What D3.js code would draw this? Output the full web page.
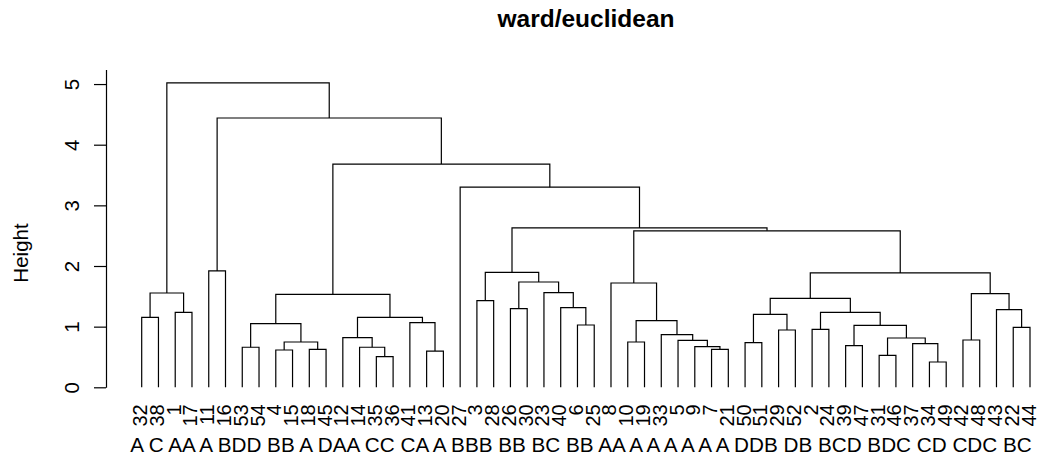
<!DOCTYPE html>
<html>
<head>
<meta charset="utf-8">
<script src="https://cdn.jsdelivr.net/npm/d3@7"></script>
<style>
  html, body { margin: 0; padding: 0; background: #fff; }
  svg { display: block; font-family: "Liberation Sans", Arial, Helvetica, sans-serif; }
</style>
</head>
<body>
<svg id="chart" width="1037" height="457"></svg>
<script>
// ---- data -------------------------------------------------------------
const title = "ward/euclidean";
const yLabel = "Height";
const yTicks = [0, 1, 2, 3, 4, 5];

// hclust-style merge table: a negative entry is an observation number,
// a positive entry refers to an earlier merge step (1-based).
const mergeLeft = [-34, -35, -31, -13, -4, -18, -7, -53, -14, -9,
                   -39, -37, -50, 5, -10, -5, -42, 3, -12, -33,
                   -29, -2, -22, 11, -6, 8, -41, 15, -32, 19,
                   13, -1, 22, -43, -26, -40, -3, 31, 26, 17,
                   29, -23, -8, 35, 38, 37, -11, 43, 46, -27,
                   39, 47, 41];
const mergeRight = [-49, -36, -46, -20, -15, -45, -21, -54, 2, 7,
                    -47, 1, -51, 6, -19, 10, -48, 12, 9, 16,
                    -52, -24, -44, 18, -25, 14, 4, 20, -38, 27,
                    21, -17, 24, 23, -30, 25, -28, 33, 30, 34,
                    32, 36, 28, 42, 40, 44, -16, 45, 48, 49,
                    50, 51, 52];
const mergeHeight = [0.417, 0.505, 0.527, 0.598, 0.615, 0.626, 0.626, 0.66, 0.66, 0.67,
                     0.686, 0.719, 0.736, 0.747, 0.747, 0.775, 0.78, 0.813, 0.818, 0.868,
                     0.945, 0.956, 0.989, 1.022, 1.027, 1.049, 1.066, 1.098, 1.154, 1.154,
                     1.203, 1.236, 1.236, 1.28, 1.297, 1.313, 1.428, 1.467, 1.533, 1.544,
                     1.555, 1.56, 1.72, 1.736, 1.885, 1.896, 1.918, 2.58, 2.627, 3.30,
                     3.68, 4.44, 5.02];

// group letters of the observations, in leaf order
const groupLine = "A C AA A BDD BB A DAA CC CA A BBB BB BC BB AA A A A A A A DDB DB BCD BDC CD CDC BC";

// ---- tree -------------------------------------------------------------
const steps = [];
const ref = v => v < 0 ? { name: String(-v), h: 0 } : steps[v - 1];
mergeLeft.forEach((l, i) => {
  steps.push({ h: mergeHeight[i], children: [ref(l), ref(mergeRight[i])] });
});
const root = d3.hierarchy(steps[steps.length - 1]);
const leaves = root.leaves();

// ---- scales -----------------------------------------------------------
const x = d3.scaleLinear().domain([1, leaves.length]).range([141.7, 1030]);
const y = d3.scaleLinear().domain([0, 5]).range([387.3, 84.05]);

leaves.forEach((d, i) => { d.x = x(i + 1); });
root.eachAfter(d => {
  if (d.children) d.x = (d.children[0].x + d.children[1].x) / 2;
});

const svg = d3.select("#chart");

// ---- dendrogram segments ---------------------------------------------
const links = svg.append("g")
  .attr("fill", "none")
  .attr("stroke", "#000")
  .attr("stroke-width", 1.2);

links.selectAll("path")
  .data(root.descendants().filter(d => d.children))
  .join("path")
  .attr("d", d => {
    const [a, b] = d.children;
    return `M${a.x},${y(a.data.h)}V${y(d.data.h)}H${b.x}V${y(b.data.h)}`;
  });

// ---- leaf labels (vertical) ------------------------------------------
svg.append("g")
  .attr("font-size", 20)
  .attr("fill", "#000")
  .selectAll("text")
  .data(leaves)
  .join("text")
  .attr("text-anchor", "end")
  .attr("transform", d => `translate(${d.x + 5.5},${y(0) + 17}) rotate(-90)`)
  .text(d => d.data.name);

// ---- y axis -----------------------------------------------------------
const yAxisScale = y.copy().domain([0, 5.24]).range([y(0), y(5.24)]);
const axis = svg.append("g")
  .attr("transform", "translate(106,0)")
  .call(d3.axisLeft(yAxisScale).tickValues(yTicks).tickSize(12).tickSizeOuter(0)
        .tickFormat(d3.format("d")));
axis.attr("font-family", null).attr("font-size", 20.5);
axis.selectAll("path, line").attr("stroke", "#000").attr("stroke-width", 1.2);
axis.selectAll(".tick text")
  .attr("fill", "#000")
  .attr("x", 0).attr("y", 0).attr("dy", null)
  .attr("text-anchor", "middle")
  .attr("transform", "translate(-27,0) rotate(-90)");

// ---- titles -----------------------------------------------------------
svg.append("text")
  .attr("x", 586).attr("y", 27)
  .attr("text-anchor", "middle")
  .attr("font-weight", "bold")
  .attr("font-size", 24.5)
  .text(title);

svg.append("text")
  .attr("text-anchor", "middle")
  .attr("font-size", 20.5)
  .attr("transform", "translate(28,253) rotate(-90)")
  .text(yLabel);

svg.append("text")
  .attr("x", 581).attr("y", 452)
  .attr("text-anchor", "middle")
  .attr("font-size", 20.7)
  .text(groupLine);
</script>
</body>
</html>
